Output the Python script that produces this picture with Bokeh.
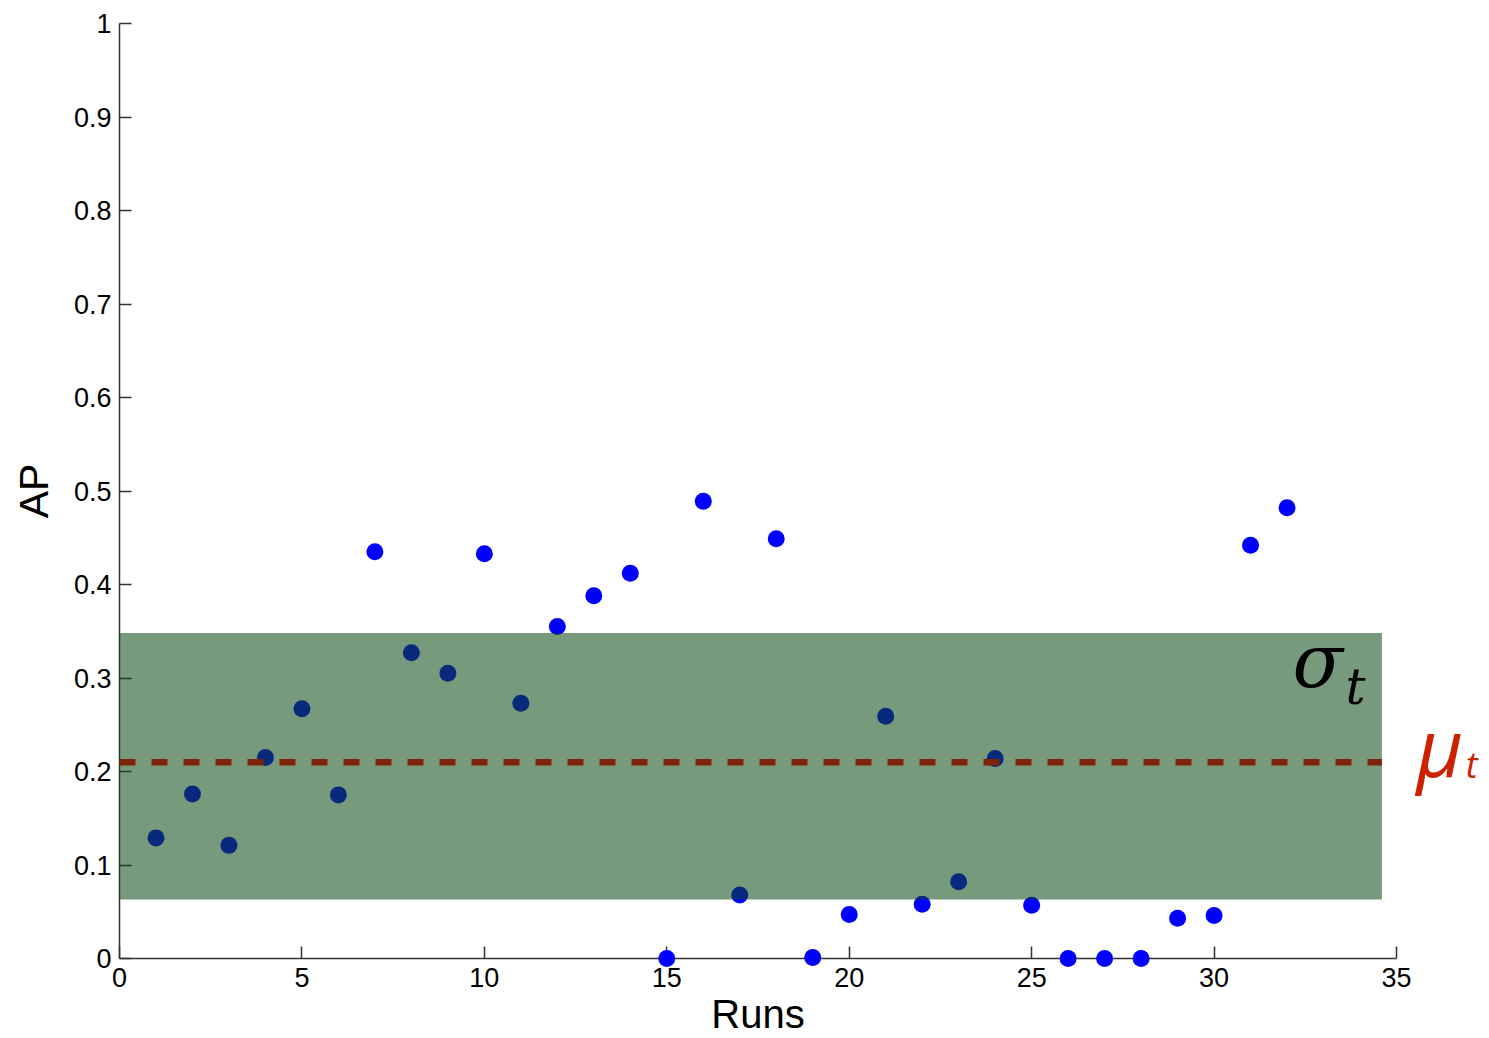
from bokeh.plotting import figure
from bokeh.models import FixedTicker, CustomJSTickFormatter, Range1d
from bokeh.core.properties import value
from bokeh.embed import file_html
from bokeh.resources import INLINE

# ---- data ----
runs = list(range(1, 33))
ap = [0.129, 0.176, 0.121, 0.215, 0.267, 0.175, 0.435, 0.327, 0.305, 0.433,
      0.273, 0.355, 0.388, 0.412, 0.000, 0.489, 0.068, 0.449, 0.001, 0.047,
      0.259, 0.058, 0.082, 0.214, 0.057, 0.000, 0.000, 0.000, 0.043, 0.046,
      0.442, 0.482]
mu_t = 0.21
sigma_band = [0.063, 0.348]      # lower, upper edge of the sigma band
band_x = [0.0, 34.6]             # horizontal extent of band and mean line
x_ticks = [0, 5, 10, 15, 20, 25, 30, 35]
y_ticks = [0, 0.1, 0.2, 0.3, 0.4, 0.5, 0.6, 0.7, 0.8, 0.9, 1]

W, H = 1483, 1038
p = figure(width=W, height=H, output_backend="svg", toolbar_location=None,
           x_range=Range1d(0, 35), y_range=Range1d(0, 1),
           min_border_left=119, min_border_right=87,
           min_border_top=23, min_border_bottom=H - 958)
p.outline_line_color = None
p.grid.visible = False
p.background_fill_color = "white"

FONT = "Liberation Sans"
for ax in (p.xaxis[0], p.yaxis[0]):
    ax.axis_line_color = "#333333"
    ax.axis_line_width = 1.5
    ax.major_tick_line_color = "#333333"
    ax.major_tick_line_width = 1.5
    ax.major_tick_in = 12
    ax.major_tick_out = 0
    ax.minor_tick_line_color = None
    ax.major_label_text_font = FONT
    ax.major_label_text_font_size = "27px"
    ax.major_label_text_color = "black"
    ax.axis_label_text_font = FONT
    ax.axis_label_text_font_style = "normal"
    ax.axis_label_text_color = "black"

p.xaxis.ticker = FixedTicker(ticks=x_ticks)
p.yaxis.ticker = FixedTicker(ticks=y_ticks)
p.yaxis.formatter = CustomJSTickFormatter(code="return tick.toString();")
p.xaxis.axis_label = "Runs"
p.yaxis.axis_label = "AP"
p.xaxis.axis_label_text_font_size = "40px"
p.yaxis.axis_label_text_font_size = "41px"
p.xaxis.major_label_standoff = 9
p.yaxis.major_label_standoff = 8
p.xaxis.axis_label_standoff = 2
p.yaxis.axis_label_standoff = 14

# points (overlay level so dots on y=0 are not clipped)
pts = p.scatter(runs, ap, size=17, color="#0000ff", line_color=None)
pts.level = "overlay"

# sigma band over the points
band = p.quad(left=[band_x[0]], right=[band_x[1]],
              bottom=[sigma_band[0]], top=[sigma_band[1]],
              fill_color="#0c4b15", fill_alpha=0.56, line_color=None)
band.level = "overlay"

# mean line
mline = p.line(band_x, [mu_t, mu_t], line_color="#7c2408", line_width=6.5,
               line_dash="16 16")
mline.level = "overlay"

# symbol labels as text glyphs (overlay level => not clipped to the frame)
def sym(x, y, txt, font, size, color):
    r = p.text(x=[x], y=[y], text=[txt], text_font=value(font),
               text_font_style="italic", text_font_size=size,
               text_color=color, text_baseline="alphabetic", text_align="left")
    r.level = "overlay"
    return r

sym(32.15, 0.318, "σ", "DejaVu Serif", "74px", "black")
sym(33.6, 0.290, "t", "DejaVu Serif", "50px", "black")
sym(35.55, 0.228, "μ", "Open Sans", "80px", "#cc2200")
sym(36.9, 0.208, "t", "Open Sans", "36px", "#cc2200")

open("out.html", "w").write(file_html(p, INLINE))
